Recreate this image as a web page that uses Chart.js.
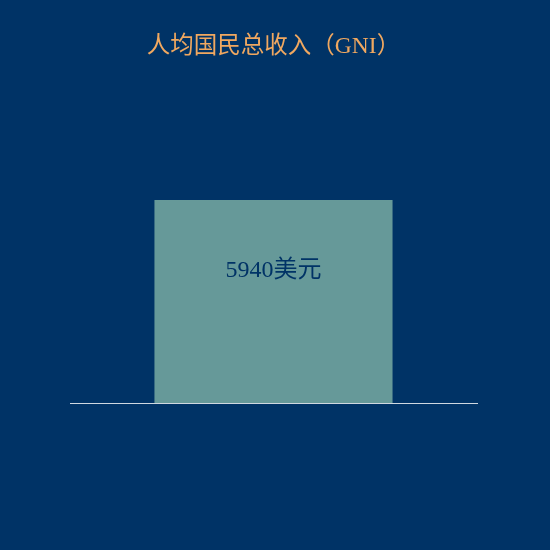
<!DOCTYPE html>
<html><head><meta charset="utf-8">
<script src="https://cdn.jsdelivr.net/npm/chart.js@4"></script>
<style>html,body{margin:0;padding:0;background:#003366;}#wrap{width:550px;height:550px;}</style>
</head><body><div id="wrap"><canvas id="c" width="550" height="550"></canvas></div>
<script>
const categories = ["人均国民总收入"];
const values = [5940];
const valueLabels = ["5940美元"];
const titleText = "人均国民总收入（GNI）";
const yMax = 9000;

const labelPlugin = {
  id: 'barLabel',
  afterDatasetsDraw(chart) {
    const ctx = chart.ctx;
    const meta = chart.getDatasetMeta(0);
    meta.data.forEach((bar, i) => {
      ctx.save();
      ctx.fillStyle = '#003366';
      ctx.font = '24px "Liberation Serif", "Noto Sans CJK SC", serif';
      ctx.textAlign = 'center';
      ctx.textBaseline = 'middle';
      ctx.fillText(valueLabels[i], bar.x, bar.y + 71);
      ctx.restore();
    });
  }
};

new Chart(document.getElementById('c'), {
  type: 'bar',
  data: {
    labels: categories,
    datasets: [{
      data: values,
      backgroundColor: '#669999',
      borderWidth: 0,
      barPercentage: 0.585,
      categoryPercentage: 1
    }]
  },
  options: {
    responsive: false,
    animation: false,
    layout: { padding: { left: 70, right: 73, top: 0, bottom: 147 } },
    plugins: {
      legend: { display: false },
      tooltip: { enabled: false },
      title: {
        display: true,
        text: titleText,
        color: '#f0a860',
        font: { family: '"Liberation Serif", "Noto Sans CJK SC", serif', size: 23.5, weight: 'normal' },
        padding: { top: 33, bottom: 34.2 }
      }
    },
    scales: {
      x: {
        display: true,
        grid: { display: false, drawTicks: false },
        border: { display: true, color: '#d0d8e0', width: 1 },
        ticks: { display: false }
      },
      y: {
        display: false,
        min: 0,
        max: yMax
      }
    }
  },
  plugins: [labelPlugin]
});
</script></body></html>
